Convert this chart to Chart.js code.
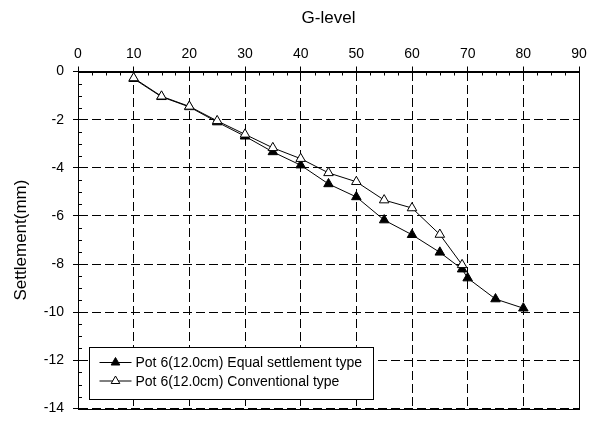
<!DOCTYPE html>
<html>
<head>
<meta charset="utf-8">
<script src="https://cdn.jsdelivr.net/npm/chart.js@4/dist/chart.umd.min.js"></script>
<style>
  body { margin: 0; background: #fff; }
</style>
</head>
<body>
<canvas id="chart" width="597" height="426"></canvas>
<script>
// G-level values and settlement (mm)
const gEqual = [10, 15, 20, 25, 30, 35, 40, 45, 50, 55, 60, 65, 69, 70, 75, 80];
const sEqual = [-0.3, -1.05, -1.47, -2.1, -2.69, -3.34, -3.89, -4.67, -5.21, -6.17, -6.78, -7.51, -8.21, -8.58, -9.45, -9.83];
const gConv = [10, 15, 20, 25, 30, 35, 40, 45, 50, 55, 60, 65, 69];
const sConv = [-0.27, -1.03, -1.45, -2.05, -2.61, -3.17, -3.62, -4.21, -4.58, -5.34, -5.67, -6.77, -8.03];

const labelEqual = 'Pot 6(12.0cm) Equal settlement type';
const labelConv = 'Pot 6(12.0cm) Conventional type';

const FONT = "'Liberation Sans', Arial, sans-serif";

const toPoints = (xs, ys) => xs.map((x, i) => ({ x: x, y: ys[i] }));

// minor ticks, outer frame and the boxed legend inside the plot
const decorations = {
  id: 'decorations',
  afterDraw(chart) {
    const ctx = chart.ctx;
    const a = chart.chartArea;
    const xs = chart.scales.x;
    const ys = chart.scales.y;
    ctx.save();
    ctx.strokeStyle = '#000';
    ctx.lineWidth = 1;
    ctx.setLineDash([]);

    // minor ticks pointing inward
    ctx.beginPath();
    for (let v = 0; v <= 90; v += 2.5) {
      if (v % 10 === 0) continue;
      const px = Math.round(xs.getPixelForValue(v)) + 0.5;
      ctx.moveTo(px, a.top);
      ctx.lineTo(px, a.top + 4);
    }
    for (let v = 0; v >= -14; v -= 0.5) {
      if (v % 2 === 0) continue;
      const py = Math.round(ys.getPixelForValue(v)) + 0.5;
      ctx.moveTo(a.left, py);
      ctx.lineTo(a.left + 4, py);
    }
    ctx.stroke();

    // frame
    ctx.strokeRect(Math.round(a.left) + 0.5, Math.round(a.top) + 0.5,
      Math.round(a.right - a.left), Math.round(a.bottom - a.top));

    // legend
    const bx = Math.round(a.left) + 11.5;
    const by = Math.round(a.bottom) - 61.5;
    const bw = 284, bh = 52;
    ctx.fillStyle = '#fff';
    ctx.fillRect(bx, by, bw, bh);
    ctx.strokeRect(bx, by, bw, bh);

    const rows = [
      { label: labelEqual, fill: '#000' },
      { label: labelConv, fill: '#fff' }
    ];
    ctx.font = '14px ' + FONT;
    ctx.textBaseline = 'middle';
    ctx.textAlign = 'left';
    rows.forEach((r, i) => {
      const y = by + 15 + i * 18.5;
      ctx.beginPath();
      ctx.moveTo(bx + 10, y);
      ctx.lineTo(bx + 42, y);
      ctx.stroke();
      const cx = bx + 26, rad = 5;
      ctx.beginPath();
      ctx.moveTo(cx, y - rad);
      ctx.lineTo(cx + rad * 0.866, y + rad * 0.5);
      ctx.lineTo(cx - rad * 0.866, y + rad * 0.5);
      ctx.closePath();
      ctx.fillStyle = r.fill;
      ctx.fill();
      ctx.stroke();
      ctx.fillStyle = '#000';
      ctx.fillText(r.label, bx + 46, y + 1);
    });
    ctx.restore();
  }
};

new Chart(document.getElementById('chart'), {
  type: 'line',
  data: {
    datasets: [
      {
        label: labelEqual,
        data: toPoints(gEqual, sEqual),
        borderColor: '#000',
        borderWidth: 1,
        pointStyle: 'triangle',
        pointRadius: 5.5,
        pointBackgroundColor: '#000',
        pointBorderColor: '#000',
        pointBorderWidth: 1,
        tension: 0,
        order: 1
      },
      {
        label: labelConv,
        data: toPoints(gConv, sConv),
        borderColor: '#000',
        borderWidth: 1,
        pointStyle: 'triangle',
        pointRadius: 5.5,
        pointBackgroundColor: '#fff',
        pointBorderColor: '#000',
        pointBorderWidth: 1,
        tension: 0,
        order: 0
      }
    ]
  },
  options: {
    responsive: false,
    animation: false,
    layout: { padding: { left: 0, top: 0, right: 18, bottom: 4.5 } },
    plugins: {
      legend: { display: false },
      tooltip: { enabled: false }
    },
    scales: {
      x: {
        type: 'linear',
        position: 'top',
        min: 0,
        max: 90,
        ticks: {
          stepSize: 10,
          color: '#000',
          padding: 4,
          font: { family: FONT, size: 14 }
        },
        grid: {
          color: '#000',
          lineWidth: 1,
          drawTicks: true,
          tickLength: 5,
          tickColor: '#000'
        },
        border: { display: true, color: '#000', width: 1, dash: [9, 4] },
        title: {
          display: true,
          text: 'G-level',
          color: '#000',
          font: { family: FONT, size: 17 },
          padding: { top: 8, bottom: 0 }
        },
        afterFit(scale) { scale.height = 71.5; }
      },
      y: {
        type: 'linear',
        min: -14,
        max: 0,
        ticks: {
          stepSize: 2,
          color: '#000',
          padding: 9,
          font: { family: FONT, size: 14 }
        },
        grid: {
          color: '#000',
          lineWidth: 1,
          drawTicks: true,
          tickLength: 5,
          tickColor: '#000'
        },
        border: { display: true, color: '#000', width: 1, dash: [9, 4] },
        title: {
          display: true,
          text: 'Settlement(mm)',
          color: '#000',
          font: { family: FONT, size: 17 },
          padding: { top: 11.5, bottom: 0 }
        },
        afterFit(scale) { scale.width = 78; }
      }
    }
  },
  plugins: [decorations]
});
</script>
</body>
</html>
